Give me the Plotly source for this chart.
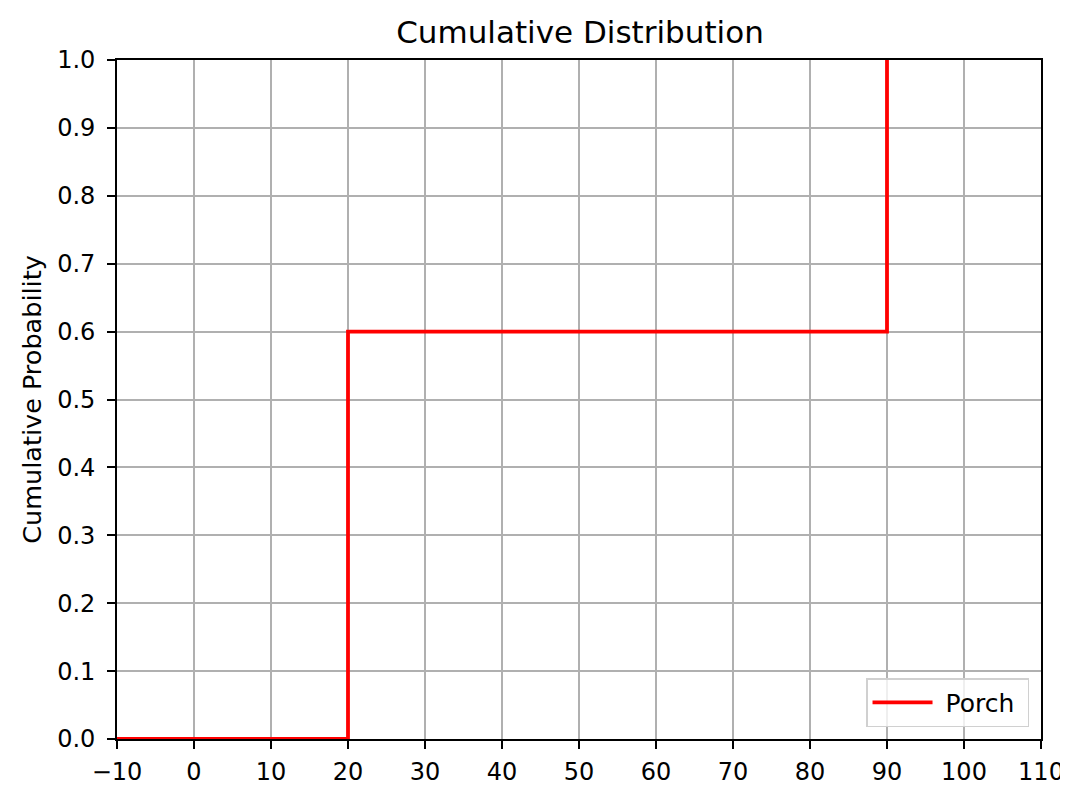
import plotly.graph_objects as go

# Data
series_name = "Porch"
x_steps = [-10, 20, 90]
cum_prob = [0.0, 0.6, 1.0]
x_ticks = list(range(-10, 111, 10))
y_ticks = [round(i * 0.1, 1) for i in range(11)]
y_tick_labels = [f"{v:.1f}" for v in y_ticks]

W, H = 1068, 790
L, R, T, B = 109, 1035, 52, 741

fig = go.Figure()
fig.add_trace(go.Scatter(
    x=x_steps, y=cum_prob, mode="lines",
    name="\u00a0" + series_name + "\u00a0",
    line=dict(color="#ff0000", width=3.8, shape="hv"),
    cliponaxis=False,
))

axis_common = dict(
    showgrid=True, gridcolor="#b0b0b0", gridwidth=1.5,
    showline=True, linecolor="black", linewidth=1.8, mirror=True,
    ticks="outside", ticklen=8, tickwidth=1.8, tickcolor="black",
    zeroline=False,
    tickfont=dict(family="DejaVu Sans", size=24, color="black"),
)

fig.update_layout(
    width=W, height=H,
    margin=dict(l=L, r=W - R, t=T, b=H - B),
    paper_bgcolor="white", plot_bgcolor="white",
    font=dict(family="DejaVu Sans", color="black"),
    title=dict(text="Cumulative Distribution", x=(L + R) / 2 / W, xanchor="center",
               y=1 - 24 / H, yanchor="middle", font=dict(size=31, color="black")),
    xaxis=dict(range=[-10, 110], tickmode="array", tickvals=x_ticks,
               ticklabelstandoff=2, **axis_common),
    yaxis=dict(range=[0, 1], tickmode="array", tickvals=y_ticks, ticktext=y_tick_labels,
               ticklabelstandoff=7,
               title=dict(text="Cumulative Probability", standoff=8,
                          font=dict(size=25.5, color="black")),
               **axis_common),
    showlegend=True,
    legend=dict(x=1 - 12 / (R - L), y=12 / (B - T), xanchor="right", yanchor="bottom",
                bgcolor="rgba(255,255,255,0.8)", bordercolor="#d0d0d0", borderwidth=1.5,
                itemwidth=60,
                font=dict(size=25, color="black")),
)

fig.write_html("out.html")
